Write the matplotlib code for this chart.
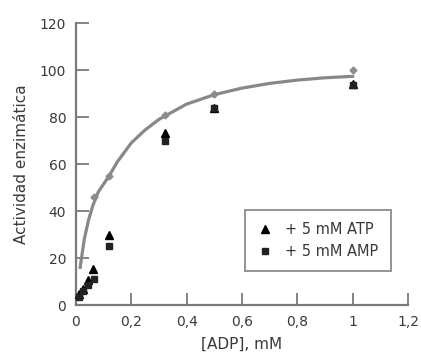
import matplotlib
matplotlib.use("Agg")
import matplotlib.pyplot as plt
from matplotlib.lines import Line2D

# Data
ctrl_x = [0.065, 0.12, 0.32, 0.5, 1.0]
ctrl_y = [46, 55, 81, 90, 100]

curve_x = [0.015, 0.03, 0.045, 0.06, 0.08, 0.1, 0.12, 0.15, 0.2, 0.25, 0.3,
           0.4, 0.5, 0.6, 0.7, 0.8, 0.9, 1.0]
curve_y = [16, 28, 36, 42, 48, 51.5, 55, 61, 69, 74.5, 79,
           85.5, 89.5, 92.3, 94.3, 95.7, 96.7, 97.3]

atp_x = [0.012, 0.025, 0.044, 0.063, 0.12, 0.32, 0.5, 1.0]
atp_y = [4.5, 7, 10.5, 15.5, 30, 73, 84, 94]

amp_x = [0.012, 0.025, 0.044, 0.065, 0.12, 0.32, 0.5, 1.0]
amp_y = [3.5, 6, 8.5, 11, 25, 70, 84, 93.5]

xticks = [0, 0.2, 0.4, 0.6, 0.8, 1.0, 1.2]
xticklabels = ["0", "0,2", "0,4", "0,6", "0,8", "1", "1,2"]
yticks = [0, 20, 40, 60, 80, 100, 120]

plt.rcParams['font.family'] = ['DejaVu Sans']

fig = plt.figure(figsize=(4.21, 3.54), dpi=100)
ax = fig.add_axes([0.1805, 0.1384, 0.969 - 0.1805, 0.935 - 0.1384])

gray = "#7a7a7a"
txt = "#3a3a3a"
ax.plot(curve_x, curve_y, color="#888888", lw=2.3, zorder=2)
ax.plot(ctrl_x, ctrl_y, 'D', color="#8c8c8c", ms=3.5, zorder=3, clip_on=False)
ax.plot(atp_x, atp_y, '^', color="black", ms=6, zorder=4, clip_on=False)
ax.plot(amp_x, amp_y, 's', color="#222222", ms=5, zorder=4, clip_on=False)

ax.set_xlim(0, 1.2)
ax.set_ylim(0, 120)
ax.set_xticks(xticks)
ax.set_xticklabels(xticklabels)
ax.set_yticks(yticks)

for s in ["top", "right"]:
    ax.spines[s].set_visible(False)
for s in ["left", "bottom"]:
    ax.spines[s].set_color(gray)
    ax.spines[s].set_linewidth(1.6)

ax.tick_params(direction='in', length=9, width=1.3, color=gray,
               labelsize=10, labelcolor=txt)
ax.tick_params(axis='x', pad=7)
ax.tick_params(axis='y', pad=7)

ax.set_xlabel("[ADP], mM", fontsize=11, color=txt, labelpad=6)
ax.set_ylabel("Actividad enzimática", fontsize=11, color=txt, labelpad=8)

handles = [Line2D([], [], marker='^', color='black', ls='none', ms=6),
           Line2D([], [], marker='s', color='#222222', ls='none', ms=5)]
leg = ax.legend(handles, ["+ 5 mM ATP", "+ 5 mM AMP"], loc='upper left',
                bbox_to_anchor=((245 - 76) / 332, (305 - 210) / 282),
                fontsize=10.5, frameon=True, fancybox=False, handlelength=1.0,
                handletextpad=0.9, borderpad=0.85, labelspacing=0.45,
                borderaxespad=0)
leg.get_frame().set_edgecolor(gray)
leg.get_frame().set_linewidth(1.4)
for t in leg.get_texts():
    t.set_color(txt)

fig.savefig("out.png", dpi=100)
